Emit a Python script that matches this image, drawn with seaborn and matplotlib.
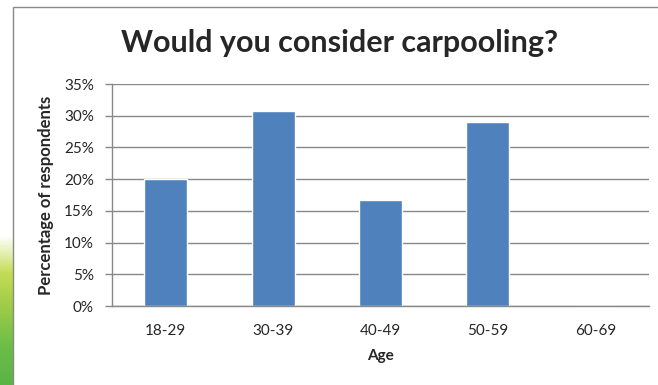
import matplotlib
matplotlib.use('Agg')
import matplotlib.pyplot as plt
import matplotlib.patches as patches
import numpy as np
import pandas as pd
import seaborn as sns

# chart data
age_groups = ['18-29', '30-39', '40-49', '50-59', '60-69']
pct_respondents = [0.200, 0.308, 0.167, 0.290, 0.0]
y_ticks = [0, 0.05, 0.10, 0.15, 0.20, 0.25, 0.30, 0.35]
y_tick_labels = ['0%', '5%', '10%', '15%', '20%', '25%', '30%', '35%']

df = pd.DataFrame({'Age': age_groups, 'Pct': pct_respondents})

sns.set_style('white')
plt.rcParams['font.family'] = ['Lato', 'DejaVu Sans']

W, H = 658, 385
fig = plt.figure(figsize=(W / 100, H / 100), dpi=100)

# green slide background strip at the lower left
bg = fig.add_axes([0, 0, 14 / W, 150 / H], zorder=0)
grad = np.linspace(0, 1, 100).reshape(-1, 1)
bg.imshow(grad, aspect='auto', cmap=matplotlib.colors.LinearSegmentedColormap.from_list(
    'g', ['#ffffff', '#c4dc55', '#9acb47', '#6cbd47', '#5bb448']), extent=[0, 1, 0, 1], origin='upper')
bg.axis('off')

# chart frame
fig.patches.append(patches.Rectangle((12.5 / W, -0.1), 1.2, 1 - 7.5 / H + 0.1,
                                     transform=fig.transFigure, facecolor='white',
                                     edgecolor='#898989', linewidth=1.0, zorder=1))

ax = fig.add_axes([112 / W, 1 - 306 / H, (649 - 112) / W, (306 - 84) / H], zorder=2)
sns.barplot(data=df, x='Age', y='Pct', color='#4F81BD', width=0.4, saturation=1, ax=ax)

ax.set_ylim(0, 0.35)
ax.set_xlim(-0.5, len(age_groups) - 0.5)
ax.set_yticks(y_ticks)
ax.set_yticklabels(y_tick_labels)
ax.yaxis.grid(True, color='#888888', linewidth=1.0)
ax.set_axisbelow(True)
for s in ['top', 'right']:
    ax.spines[s].set_visible(False)
for s in ['left', 'bottom']:
    ax.spines[s].set_color('#888888')
    ax.spines[s].set_linewidth(1.0)

# ticks between categories on x, outward ticks on y
ax.set_xticks(np.arange(len(age_groups)))
ax.set_xticklabels(age_groups)
ax.set_xticks(np.arange(-0.5, len(age_groups)), minor=True)
ax.tick_params(axis='x', which='major', length=0, pad=13, labelsize=11)
ax.tick_params(axis='x', which='minor', length=5, color='#888888', width=1)
ax.tick_params(axis='y', length=5, color='#888888', width=1, pad=8, labelsize=11, left=True)

ax.set_xlabel('Age', fontweight='bold', fontsize=11, labelpad=8)
ax.set_ylabel('Percentage of respondents', fontweight='bold', fontsize=12, labelpad=7)

fig.text(340 / W, 1 - 52 / H, 'Would you consider carpooling?', ha='center', va='baseline',
         fontsize=22, fontweight='bold', zorder=3)

fig.savefig('out.png', dpi=100)
